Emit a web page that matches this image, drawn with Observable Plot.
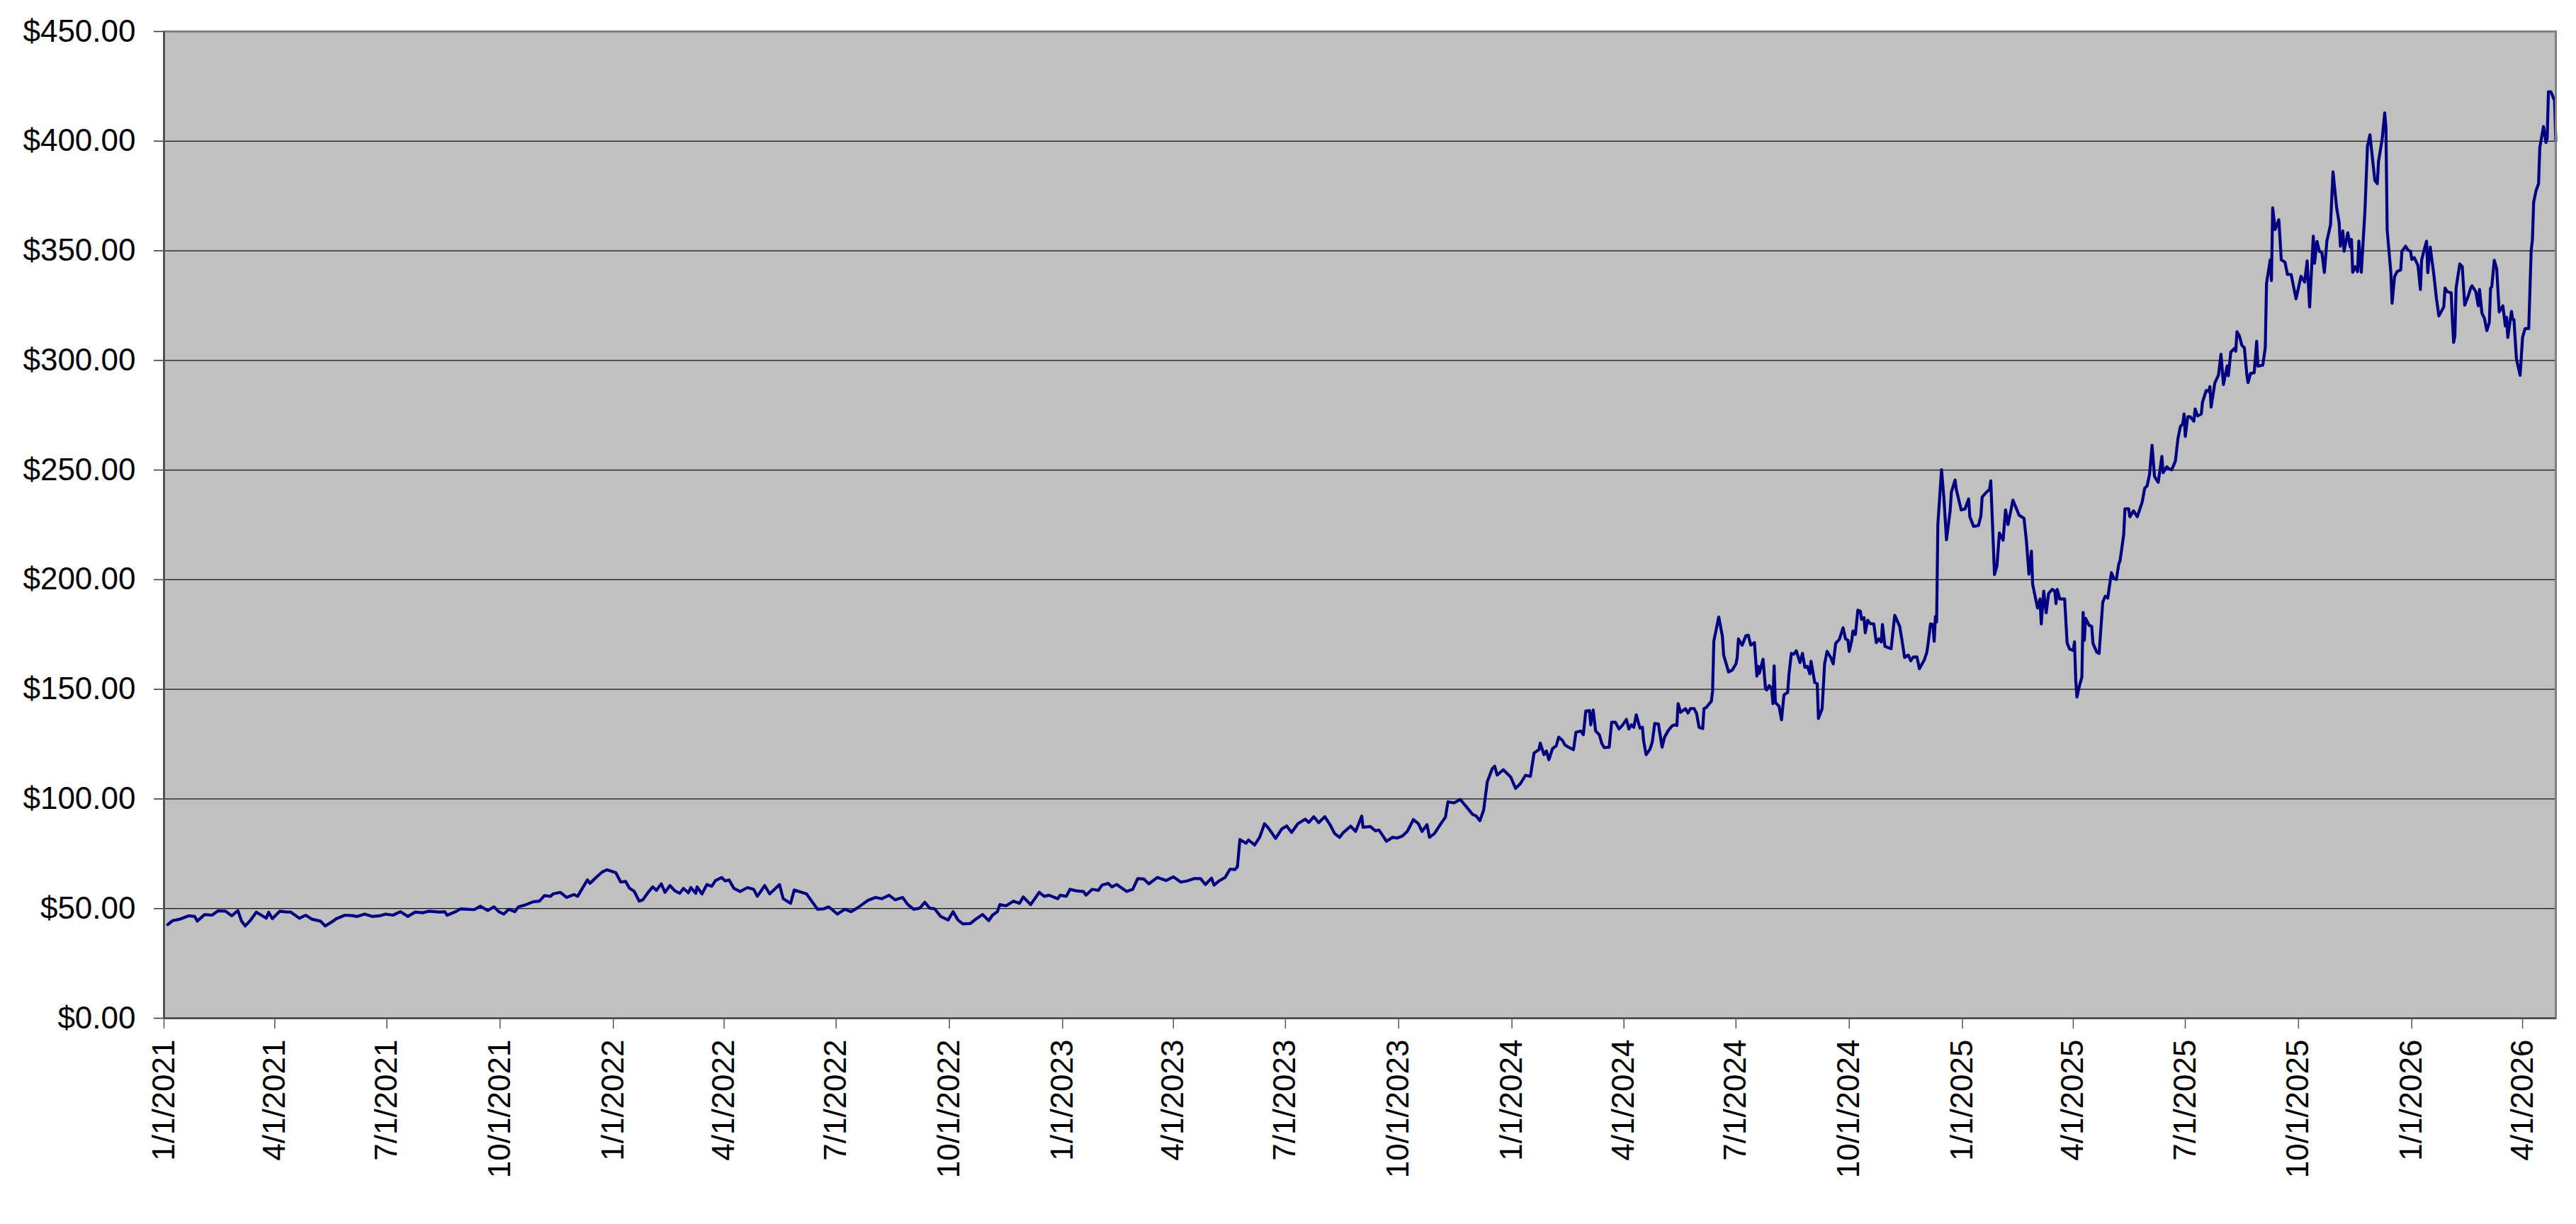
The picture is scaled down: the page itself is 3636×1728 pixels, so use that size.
<!DOCTYPE html>
<html>
<head>
<meta charset="utf-8">
<script src="https://cdn.jsdelivr.net/npm/d3@7"></script>
<script src="https://cdn.jsdelivr.net/npm/@observablehq/plot@0.6"></script>
<style>
  html, body { margin: 0; padding: 0; background: #ffffff; }
  #chart svg { display: block; }
</style>
</head>
<body>
<div id="chart"></div>
<script>
const dates = [
"2021-01-04","2021-01-08","2021-01-14","2021-01-21","2021-01-26","2021-01-28","2021-02-03","2021-02-09","2021-02-14","2021-02-20",
"2021-02-25","2021-03-02","2021-03-05","2021-03-08","2021-03-12","2021-03-17","2021-03-21","2021-03-25","2021-03-27","2021-03-30",
"2021-04-05","2021-04-10","2021-04-14","2021-04-21","2021-04-26","2021-05-01","2021-05-08","2021-05-12","2021-05-17","2021-05-21",
"2021-05-28","2021-06-03","2021-06-07","2021-06-13","2021-06-19","2021-06-25","2021-06-30","2021-07-06","2021-07-12","2021-07-18",
"2021-07-24","2021-07-30","2021-08-04","2021-08-13","2021-08-17","2021-08-19","2021-08-26","2021-08-30","2021-09-04","2021-09-10",
"2021-09-15","2021-09-21","2021-09-26","2021-09-30","2021-10-04","2021-10-08","2021-10-13","2021-10-16","2021-10-22","2021-10-28",
"2021-11-02","2021-11-06","2021-11-11","2021-11-13","2021-11-19","2021-11-24","2021-11-30","2021-12-03","2021-12-07","2021-12-11",
"2021-12-13","2021-12-18","2021-12-23","2021-12-27","2022-01-03","2022-01-07","2022-01-11","2022-01-14","2022-01-18","2022-01-22",
"2022-01-25","2022-01-29","2022-02-02","2022-02-05","2022-02-09","2022-02-12","2022-02-16","2022-02-20","2022-02-24","2022-02-27",
"2022-03-03","2022-03-05","2022-03-09","2022-03-10","2022-03-14","2022-03-18","2022-03-22","2022-03-25","2022-03-30","2022-04-02",
"2022-04-05","2022-04-09","2022-04-14","2022-04-20","2022-04-25","2022-04-28","2022-05-04","2022-05-08","2022-05-11","2022-05-16",
"2022-05-19","2022-05-25","2022-05-28","2022-06-03","2022-06-07","2022-06-12","2022-06-16","2022-06-21","2022-06-25","2022-07-02",
"2022-07-08","2022-07-13","2022-07-18","2022-07-22","2022-07-27","2022-08-02","2022-08-07","2022-08-13","2022-08-18","2022-08-24",
"2022-08-28","2022-09-02","2022-09-07","2022-09-11","2022-09-15","2022-09-19","2022-09-24","2022-09-30","2022-10-04","2022-10-08",
"2022-10-12","2022-10-18","2022-10-23","2022-10-28","2022-11-02","2022-11-05","2022-11-09","2022-11-11","2022-11-16","2022-11-22",
"2022-11-27","2022-11-30","2022-12-06","2022-12-13","2022-12-17","2022-12-21","2022-12-28","2022-12-30","2023-01-04","2023-01-07",
"2023-01-12","2023-01-18","2023-01-20","2023-01-25","2023-01-30","2023-02-02","2023-02-07","2023-02-10","2023-02-14","2023-02-22",
"2023-02-27","2023-03-03","2023-03-08","2023-03-12","2023-03-19","2023-03-26","2023-04-01","2023-04-07","2023-04-12","2023-04-18",
"2023-04-23","2023-04-27","2023-05-02","2023-05-04","2023-05-08","2023-05-13","2023-05-17","2023-05-21","2023-05-23","2023-05-25",
"2023-05-30","2023-06-01","2023-06-06","2023-06-10","2023-06-14","2023-06-17","2023-06-23","2023-06-28","2023-07-02","2023-07-06",
"2023-07-11","2023-07-17","2023-07-20","2023-07-24","2023-07-28","2023-08-02","2023-08-06","2023-08-10","2023-08-14","2023-08-17",
"2023-08-23","2023-08-27","2023-09-01","2023-09-02","2023-09-08","2023-09-12","2023-09-15","2023-09-19","2023-09-21","2023-09-26",
"2023-09-30","2023-10-04","2023-10-08","2023-10-13","2023-10-17","2023-10-20","2023-10-24","2023-10-26","2023-10-30","2023-11-04",
"2023-11-08","2023-11-10","2023-11-15","2023-11-20","2023-11-24","2023-11-30","2023-12-03","2023-12-06","2023-12-09","2023-12-12",
"2023-12-16","2023-12-18","2023-12-20","2023-12-25","2023-12-31","2024-01-04","2024-01-08","2024-01-12","2024-01-16","2024-01-19",
"2024-01-23","2024-01-24","2024-01-27","2024-01-29","2024-01-31","2024-02-03","2024-02-06","2024-02-08","2024-02-11","2024-02-13",
"2024-02-16","2024-02-20","2024-02-22","2024-02-26","2024-02-28","2024-03-01","2024-03-04","2024-03-05","2024-03-07","2024-03-09",
"2024-03-12","2024-03-14","2024-03-16","2024-03-20","2024-03-22","2024-03-25","2024-03-28","2024-03-31","2024-04-03","2024-04-05",
"2024-04-07","2024-04-09","2024-04-11","2024-04-14","2024-04-16","2024-04-17","2024-04-19","2024-04-22","2024-04-24","2024-04-26",
"2024-04-29","2024-05-02","2024-05-04","2024-05-07","2024-05-10","2024-05-12","2024-05-14","2024-05-15","2024-05-17","2024-05-21",
"2024-05-23","2024-05-25","2024-05-28","2024-05-30","2024-06-01","2024-06-04","2024-06-05","2024-06-07","2024-06-11","2024-06-12",
"2024-06-13","2024-06-14","2024-06-17","2024-06-20","2024-06-21","2024-06-25","2024-06-28","2024-07-01","2024-07-02","2024-07-03",
"2024-07-06","2024-07-09","2024-07-11","2024-07-13","2024-07-16","2024-07-18","2024-07-19","2024-07-20","2024-07-23","2024-07-25",
"2024-07-26","2024-07-28","2024-07-30","2024-07-31","2024-08-01","2024-08-02","2024-08-05","2024-08-07","2024-08-09","2024-08-12",
"2024-08-13","2024-08-15","2024-08-17","2024-08-19","2024-08-22","2024-08-24","2024-08-26","2024-08-28","2024-08-30","2024-08-31",
"2024-09-03","2024-09-05","2024-09-06","2024-09-09","2024-09-11","2024-09-13","2024-09-16","2024-09-18","2024-09-20","2024-09-23",
"2024-09-26","2024-09-28","2024-09-30","2024-10-01","2024-10-03","2024-10-04","2024-10-06","2024-10-08","2024-10-10","2024-10-11",
"2024-10-13","2024-10-14","2024-10-16","2024-10-18","2024-10-21","2024-10-23","2024-10-25","2024-10-27","2024-10-28","2024-10-30",
"2024-11-04","2024-11-07","2024-11-11","2024-11-13","2024-11-15","2024-11-18","2024-11-20","2024-11-22","2024-11-25","2024-11-27",
"2024-12-01","2024-12-03","2024-12-04","2024-12-06","2024-12-08","2024-12-09","2024-12-10","2024-12-11","2024-12-12","2024-12-15",
"2024-12-17","2024-12-19","2024-12-22","2024-12-23","2024-12-26","2024-12-27","2024-12-31","2025-01-03","2025-01-06","2025-01-07",
"2025-01-10","2025-01-14","2025-01-16","2025-01-17","2025-01-21","2025-01-23","2025-01-24","2025-01-27","2025-01-29","2025-01-31",
"2025-02-03","2025-02-05","2025-02-07","2025-02-11","2025-02-16","2025-02-20","2025-02-22","2025-02-24","2025-02-26","2025-02-27",
"2025-03-03","2025-03-05","2025-03-06","2025-03-08","2025-03-10","2025-03-12","2025-03-15","2025-03-17","2025-03-18","2025-03-19",
"2025-03-21","2025-03-25","2025-03-27","2025-03-29","2025-04-01","2025-04-02","2025-04-03","2025-04-04","2025-04-06","2025-04-08",
"2025-04-09","2025-04-10","2025-04-11","2025-04-14","2025-04-16","2025-04-17","2025-04-20","2025-04-22","2025-04-23","2025-04-25",
"2025-04-27","2025-04-29","2025-05-02","2025-05-04","2025-05-06","2025-05-08","2025-05-09","2025-05-12","2025-05-13","2025-05-16",
"2025-05-17","2025-05-20","2025-05-23","2025-05-27","2025-05-29","2025-05-31","2025-06-02","2025-06-04","2025-06-06","2025-06-09",
"2025-06-12","2025-06-13","2025-06-16","2025-06-18","2025-06-20","2025-06-23","2025-06-25","2025-06-27","2025-06-29","2025-06-30",
"2025-07-01","2025-07-03","2025-07-05","2025-07-08","2025-07-09","2025-07-11","2025-07-14","2025-07-15","2025-07-18","2025-07-20",
"2025-07-21","2025-07-22","2025-07-25","2025-07-28","2025-07-30","2025-08-01","2025-08-04","2025-08-05","2025-08-07","2025-08-10",
"2025-08-11","2025-08-12","2025-08-14","2025-08-16","2025-08-18","2025-08-20","2025-08-21","2025-08-23","2025-08-26","2025-08-28",
"2025-08-29","2025-09-02","2025-09-04","2025-09-05","2025-09-08","2025-09-09","2025-09-10","2025-09-12","2025-09-15","2025-09-17",
"2025-09-20","2025-09-22","2025-09-25","2025-09-27","2025-09-29","2025-10-03","2025-10-06","2025-10-08","2025-10-10","2025-10-13",
"2025-10-14","2025-10-16","2025-10-18","2025-10-20","2025-10-22","2025-10-24","2025-10-27","2025-10-29","2025-11-01","2025-11-03",
"2025-11-04","2025-11-06","2025-11-07","2025-11-10","2025-11-12","2025-11-13","2025-11-14","2025-11-16","2025-11-18","2025-11-19",
"2025-11-21","2025-11-24","2025-11-26","2025-11-28","2025-12-02","2025-12-04","2025-12-05","2025-12-08","2025-12-10","2025-12-11",
"2025-12-12","2025-12-15","2025-12-16","2025-12-18","2025-12-20","2025-12-23","2025-12-24","2025-12-27","2025-12-29","2025-12-31",
"2026-01-01","2026-01-03","2026-01-06","2026-01-08","2026-01-09","2026-01-11","2026-01-13","2026-01-14","2026-01-16","2026-01-19",
"2026-01-21","2026-01-23","2026-01-27","2026-01-28","2026-01-30","2026-02-02","2026-02-03","2026-02-04","2026-02-05","2026-02-06",
"2026-02-09","2026-02-11","2026-02-13","2026-02-16","2026-02-18","2026-02-19","2026-02-22","2026-02-24","2026-02-25","2026-02-27",
"2026-03-01","2026-03-03","2026-03-05","2026-03-06","2026-03-07","2026-03-09","2026-03-11","2026-03-13","2026-03-16","2026-03-18",
"2026-03-19","2026-03-20","2026-03-23","2026-03-24","2026-03-25","2026-03-27","2026-03-30","2026-04-01","2026-04-03","2026-04-06",
"2026-04-08","2026-04-09","2026-04-10","2026-04-12","2026-04-14","2026-04-15","2026-04-18","2026-04-20","2026-04-21","2026-04-22",
"2026-04-24","2026-04-27","2026-04-28"
];

const prices = [
42.7,44.5,45.2,46.7,46.4,44.3,47.3,47.0,49.0,48.8,
46.7,49.1,44.3,42.1,44.5,48.4,47.0,45.6,48.3,45.4,
48.8,48.5,48.4,45.6,47.0,45.2,44.3,42.1,43.8,45.4,
47.0,46.8,46.4,47.5,46.4,46.7,47.5,47.0,48.6,46.4,
48.4,48.1,48.8,48.4,48.6,47.0,48.6,49.9,49.7,49.5,
51.1,49.1,50.8,48.6,47.5,49.7,48.6,50.8,51.8,53.1,
53.4,55.9,55.6,56.7,57.4,55.1,56.4,55.6,59.4,63.1,
61.5,64.2,66.7,67.7,66.4,62.1,62.4,59.4,57.8,53.4,
54.0,57.2,59.9,58.3,61.3,57.4,60.5,58.1,57.0,59.2,
57.2,59.6,57.0,59.9,56.7,61.0,60.2,62.8,64.2,62.6,
63.1,59.2,57.8,59.6,58.8,55.6,60.5,56.7,58.3,61.0,
54.5,52.4,58.5,57.4,56.7,52.7,49.7,49.9,50.8,47.5,
49.7,48.6,50.2,51.8,53.8,55.1,54.5,56.1,54.0,55.1,
52.0,49.7,50.2,52.9,50.2,49.9,46.4,44.8,48.6,44.8,
43.0,43.2,45.4,47.3,44.5,47.0,48.6,51.8,51.3,53.4,
52.4,55.3,51.8,57.4,55.6,56.1,54.5,56.1,55.6,58.8,
58.1,57.8,56.1,58.8,58.3,60.7,61.5,59.9,61.0,57.8,
58.8,63.7,63.5,61.3,64.2,62.8,64.5,62.1,62.6,63.7,
63.7,61.0,63.9,60.7,62.6,64.2,68.0,67.8,69.1,81.5,
79.8,81.3,79.0,82.5,88.7,86.9,82.0,86.3,87.7,84.7,
88.7,90.8,89.3,91.9,89.2,91.9,88.5,84.2,82.5,84.7,
87.6,85.2,92.2,87.1,87.4,85.5,85.8,82.5,80.7,82.5,
82.2,83.1,85.2,90.6,88.7,85.2,88.3,82.5,84.2,88.5,
91.7,98.7,98.2,99.8,97.1,93.0,92.2,90.1,94.9,107.9,
113.8,114.9,110.9,113.3,110.0,104.8,107.1,110.8,110.3,121.0,
122.5,125.5,120.2,121.9,117.9,123.0,124.2,128.2,126.7,124.7,
123.6,122.5,130.4,131.0,129.3,140.1,140.3,133.8,140.6,131.0,
129.3,125.3,123.4,123.6,135.0,135.0,131.9,133.8,136.3,131.9,
133.8,132.7,138.4,132.3,132.7,126.5,120.2,122.5,125.9,134.4,
134.2,123.6,128.2,131.2,133.3,133.8,133.5,143.5,139.5,141.2,
139.2,141.2,141.2,139.0,132.7,132.1,141.2,141.8,144.6,149.2,
171.9,174.7,183.0,174.1,165.6,157.9,158.8,161.6,164.5,173.0,
170.1,174.4,174.7,170.2,171.3,156.0,160.5,157.3,163.7,150.3,
149.7,151.7,150.3,143.5,160.7,144.0,142.3,136.1,147.5,148.6,
156.5,166.4,166.0,167.6,162.2,166.4,160.0,160.5,157.1,162.8,
153.1,152.6,136.7,141.2,161.6,167.3,164.5,161.6,171.0,172.8,
178.1,173.0,172.4,167.3,172.1,176.6,175.0,186.1,185.7,181.9,
182.7,175.8,181.5,180.0,179.8,171.3,173.0,171.6,179.6,169.6,
168.5,183.8,178.7,171.9,164.5,165.6,163.0,164.7,164.8,159.4,
163.4,166.8,170.5,179.8,179.6,171.9,183.2,180.7,225.2,250.2,
236.6,218.2,231.5,240.0,245.5,241.1,231.8,232.3,236.8,228.7,
224.3,224.7,229.2,237.7,240.2,241.1,245.1,202.3,206.3,221.3,
218.0,231.8,225.1,236.3,229.4,228.0,217.3,202.5,213.0,197.9,
187.1,191.2,179.8,194.8,184.9,193.8,195.6,194.8,189.1,195.6,
191.2,191.2,171.2,168.4,167.7,171.7,154.3,146.5,151.6,155.6,
185.1,172.4,182.4,179.1,178.7,171.0,167.0,166.4,174.4,189.8,
192.5,191.6,203.2,200.5,200.1,207.2,208.6,220.6,232.3,232.3,
228.7,231.4,228.7,235.4,241.7,242.8,248.1,261.3,247.1,244.4,
256.2,248.8,251.5,250.5,250.1,254.2,264.2,269.8,271.2,275.6,
265.3,274.3,274.3,272.3,277.9,274.7,275.6,281.0,286.3,285.9,
288.1,278.7,289.7,293.4,302.8,289.0,297.5,293.0,303.8,305.5,
304.2,313.1,311.1,306.8,305.8,293.6,289.9,294.0,294.4,308.7,
297.4,297.9,306.0,335.1,345.9,336.4,369.6,359.7,364.2,345.9,
344.8,339.2,339.2,333.6,328.1,338.4,335.7,345.4,324.4,356.7,
344.3,354.3,349.7,349.1,340.1,354.4,361.9,386.0,369.5,362.8,
352.1,359.0,349.8,358.2,351.7,355.2,340.2,342.8,340.5,354.4,
340.2,368.8,397.7,402.9,382.1,380.6,390.8,401.2,412.9,406.4,
359.6,340.0,326.1,338.2,340.5,341.3,349.8,352.1,350.3,349.8,
346.0,346.9,343.4,332.4,345.7,350.3,354.4,340.0,351.7,338.8,
328.4,320.3,324.4,333.0,331.3,330.9,318.0,308.2,311.1,333.0,
344.0,342.8,325.2,329.6,333.3,334.0,331.3,324.9,332.4,321.5,
319.2,313.6,317.4,333.0,333.6,345.7,341.7,322.1,324.9,315.7,
319.7,310.5,322.4,318.6,318.6,300.7,293.2,310.5,314.5,314.5,
350.3,355.0,372.1,377.5,380.6,397.1,406.7,399.4,401.4,422.5,
422.5,418.5,400.0
];

const xTickLabels = [
"2021-01-01","2021-04-01","2021-07-01","2021-10-01","2022-01-01","2022-04-01","2022-07-01","2022-10-01",
"2023-01-01","2023-04-01","2023-07-01","2023-10-01","2024-01-01","2024-04-01","2024-07-01","2024-10-01",
"2025-01-01","2025-04-01","2025-07-01","2025-10-01","2026-01-01","2026-04-01"
];
const yTickValues = [0, 50, 100, 150, 200, 250, 300, 350, 400, 450];
const xDomain = ["2021-01-01", "2026-04-28"];

const data = dates.map((d, i) => ({date: new Date(d), price: prices[i]}));
const xTicks = xTickLabels.map(d => new Date(d));
const fmtDate = d3.utcFormat("%-m/%-d/%Y");
const fmtPrice = d3.format("$.2f");

const chart = Plot.plot({
  width: 3636,
  height: 1728,
  marginLeft: 231,
  marginRight: 29,
  marginTop: 44,
  marginBottom: 291,
  style: {fontFamily: "'Liberation Sans', Arial, sans-serif", fontSize: "44px", background: "#ffffff", color: "#000"},
  x: {type: "utc", domain: xDomain.map(d => new Date(d)), axis: null},
  y: {domain: [0, 450], axis: null},
  marks: [
    Plot.frame({fill: "#c0c0c0", stroke: null}),
    Plot.gridY(yTickValues, {stroke: "#000000", strokeOpacity: 0.9, strokeWidth: 1.3}),
    Plot.axisY({ticks: yTickValues, tickSize: 14, tickPadding: 26, tickFormat: fmtPrice, label: null, fontSize: 44, stroke: "#333", strokeWidth: 1.5}),
    Plot.axisX({ticks: xTicks, tickSize: 15, tickFormat: () => "", label: null, stroke: "#555", strokeWidth: 1.5}),
    Plot.text(xTicks, {x: d => d, frameAnchor: "bottom", dy: 30, rotate: -90, textAnchor: "end", lineAnchor: "middle", text: d => fmtDate(d), fontSize: 44, fill: "#000"}),
    Plot.lineY(data, {x: "date", y: "price", stroke: "#000080", strokeWidth: 4.2, strokeLinejoin: "round"}),
    Plot.frame({stroke: "#808080", strokeWidth: 3}),
    Plot.ruleX([new Date(xDomain[0])], {stroke: "#404040", strokeWidth: 2}),
    Plot.ruleY([0], {stroke: "#404040", strokeWidth: 2})
  ]
});
document.getElementById("chart").appendChild(chart);
</script>
</body>
</html>
